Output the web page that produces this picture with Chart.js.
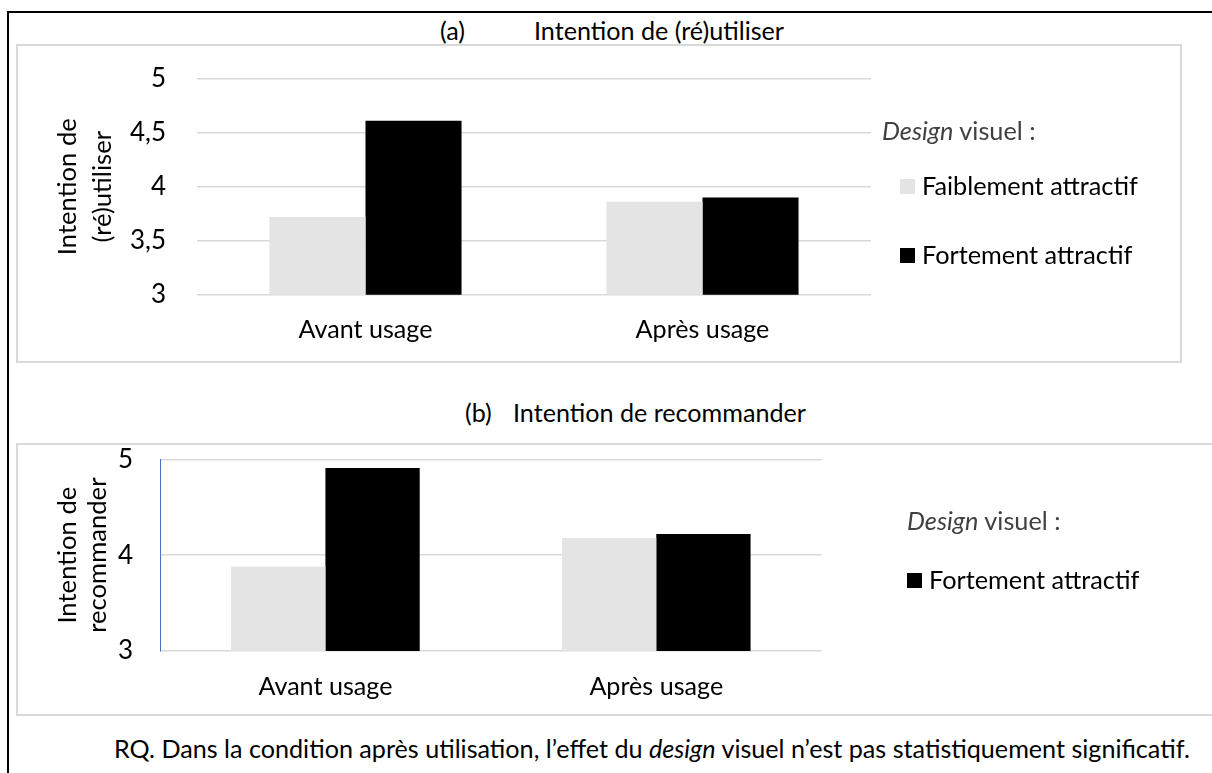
<!DOCTYPE html>
<html><head><meta charset="utf-8">
<script src="https://cdn.jsdelivr.net/npm/chart.js@4.4.0/dist/chart.umd.min.js"></script>
<style>
html,body{margin:0;padding:0;background:#fff;}
body{width:1212px;height:773px;position:relative;overflow:hidden;font-family:Lato,sans-serif;color:#000;}
.abs{position:absolute;box-sizing:border-box;}
.txt{position:absolute;white-space:nowrap;line-height:1;transform:translateY(-50%);}
canvas{position:absolute;}
</style></head><body>
<div class="abs" style="left:7px;top:11px;width:1300px;height:900px;border:2px solid #000"></div>
<div class="abs" style="left:16px;top:44px;width:1166px;height:319px;border:2px solid #d9d9d9"></div>
<div class="abs" style="left:16px;top:443px;width:1300px;height:273px;border:2px solid #d9d9d9"></div>
<canvas id="cA" width="1162" height="315" style="left:18px;top:46px"></canvas>
<canvas id="cB" width="1194" height="269" style="left:18px;top:445px"></canvas>
<script>
const FAMILY = 'Lato';
const categories = ['Avant usage', 'Après usage'];
const seriesNames = ['Faiblement attractif', 'Fortement attractif'];
const seriesColors = ['#e4e4e4', '#000000'];
const reuseFaible = [3.72, 3.86];
const reuseFort = [4.61, 3.90];
const recoFaible = [3.88, 4.18];
const recoFort = [4.91, 4.22];
const reuseTicks = [3, 3.5, 4, 4.5, 5];
const recoTicks = [3, 4, 5];
const titleA = ['(a)', 'Intention de (ré)utiliser'];
const titleB = ['(b)', 'Intention de recommander'];
const yTitleA = ['Intention de', '(ré)utiliser'];
const yTitleB = ['Intention de', 'recommander'];
const legendItemsA = [0, 1];
const legendItemsB = [1];
const legendHeadItalic = 'Design';
const legendHeadRest = ' visuel :';
const notePre = 'RQ. Dans la condition après utilisation, l’effet du ';
const noteItalic = 'design';
const notePost = ' visuel n’est pas statistiquement significatif.';

const mctx = document.createElement('canvas').getContext('2d');
function w(text, style) { mctx.font = (style||'') + ' 100px ' + FAMILY; return mctx.measureText(text).width; }
function fit(parts, target) { let t = 0; parts.forEach(p => t += w(p[0], p[1])); return 100 * target / t; }

const titleSize = fit([[titleB[1]]], 293);
const legendSize = fit([[seriesNames[0]]], 216);
const catSize = fit([[categories[0]]], 134);
const yTitleSize = fit([[yTitleA[0]]], 137);
const noteSize = fit([[notePre], [noteItalic, 'italic'], [notePost]], 1077);

function addText(html, x, cy, size, color) {
  const d = document.createElement('div');
  d.className = 'txt';
  d.style.left = x + 'px'; d.style.top = cy + 'px';
  d.style.fontSize = size + 'px'; d.style.color = color || '#000';
  d.innerHTML = html;
  document.body.appendChild(d);
}
function addBox(x, cy, s, color) {
  const d = document.createElement('div');
  d.className = 'abs';
  d.style.left = x + 'px'; d.style.top = (cy - s / 2) + 'px';
  d.style.width = s + 'px'; d.style.height = s + 'px'; d.style.background = color;
  document.body.appendChild(d);
}

addText(titleA[0], 440, 31, titleSize);
addText(titleA[1], 534, 31, titleSize);
addText(titleB[0], 465, 413, titleSize);
addText(titleB[1], 513, 413, titleSize);

const head = '<i>' + legendHeadItalic + '</i>' + legendHeadRest;
addText(head, 882, 131, legendSize, '#404040');
const rowsA = [186, 255];
legendItemsA.forEach((s, i) => { addBox(900, rowsA[i], 15, seriesColors[s]); addText(seriesNames[s], 922, rowsA[i], legendSize); });
addText(head, 907, 521, legendSize, '#404040');
const rowsB = [580];
legendItemsB.forEach((s, i) => { addBox(907, rowsB[i], 15, seriesColors[s]); addText(seriesNames[s], 929, rowsB[i], legendSize); });

addText(notePre + '<i>' + noteItalic + '</i>' + notePost, 114, 749, noteSize);

function makeChart(id, faible, fort, ticks, yTitle, g) {
  return new Chart(document.getElementById(id), {
    type: 'bar',
    data: { labels: categories, datasets: [
      { label: seriesNames[0], data: faible, backgroundColor: seriesColors[0], borderWidth: 0 },
      { label: seriesNames[1], data: fort, backgroundColor: seriesColors[1], borderWidth: 0 }
    ]},
    options: {
      responsive: false, animation: false, devicePixelRatio: 1,
      datasets: { bar: { barPercentage: 1, categoryPercentage: 0.57 } },
      layout: { padding: { left: 0, right: g.padRight, top: g.padTop, bottom: 0 } },
      plugins: { legend: { display: false }, tooltip: { enabled: false }, title: { display: false } },
      scales: {
        x: {
          grid: { display: false, drawTicks: false }, border: { display: false },
          ticks: { color: '#000', font: { family: FAMILY, size: catSize, lineHeight: 1.2 }, padding: g.xPad },
          afterFit: s => { s.height = g.xH; s.paddingLeft = 0; s.paddingRight = 0; }
        },
        y: {
          min: ticks[0], max: ticks[ticks.length - 1],
          afterBuildTicks: ax => { ax.ticks = ticks.map(v => ({ value: v })); },
          grid: { color: '#d9d9d9', lineWidth: 1.5, drawTicks: false },
          border: { display: g.blue, color: '#4472c4', width: 1 },
          ticks: { color: '#000', font: { family: FAMILY, size: 26, lineHeight: 1 }, padding: g.yPad,
                   callback: v => String(v).replace('.', ',') },
          title: { display: true, text: yTitle, color: '#000',
                   font: { family: FAMILY, size: yTitleSize, lineHeight: g.titleLH / yTitleSize },
                   padding: { top: g.titlePadTop, bottom: 0 } },
          afterFit: s => { s.width = g.yW; s.paddingTop = 0; s.paddingBottom = 0; }
        }
      }
    }
  });
}

makeChart('cA', reuseFaible, reuseFort, reuseTicks, yTitleA,
  { padRight: 309, padTop: 32.7, xH: 66.3, xPad: 20, yW: 179, yPad: 31, titleLH: 35, titlePadTop: 32.5, blue: false });
makeChart('cB', recoFaible, recoFort, recoTicks, yTitleB,
  { padRight: 390.3, padTop: 14.3, xH: 63, xPad: 21, yW: 142, yPad: 27, titleLH: 30, titlePadTop: 35, blue: true });
</script>
</body></html>
